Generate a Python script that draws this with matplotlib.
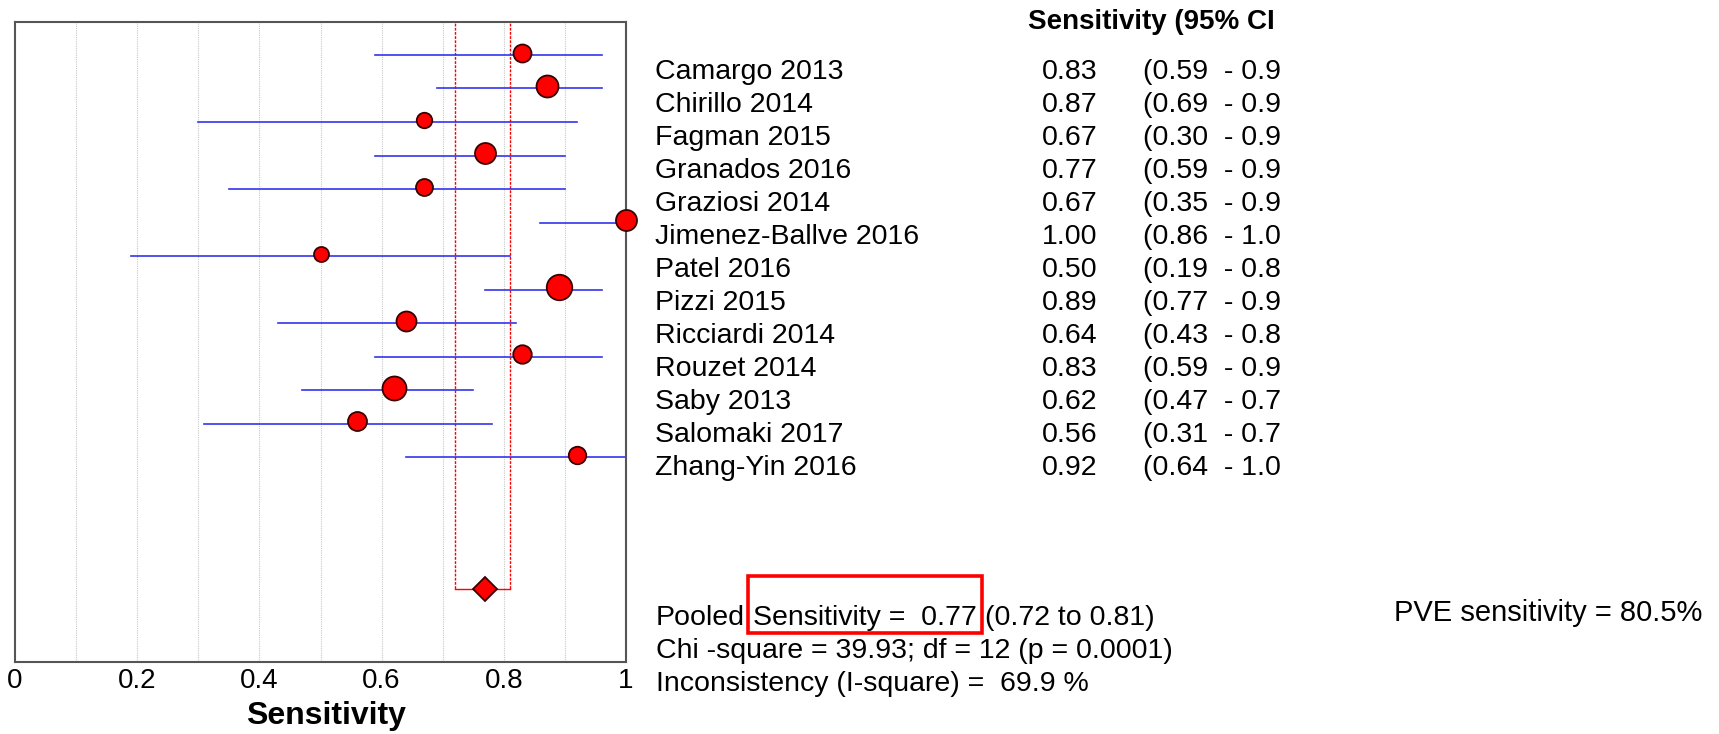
import matplotlib
matplotlib.use("Agg")
import matplotlib.pyplot as plt
from matplotlib.patches import Rectangle
from matplotlib.transforms import IdentityTransform
import numpy as np

plt.rcParams['font.family'] = ['Liberation Sans', 'DejaVu Sans']

# study data
studies = ['Camargo 2013', 'Chirillo 2014', 'Fagman 2015', 'Granados 2016',
           'Graziosi 2014', 'Jimenez-Ballve 2016', 'Patel 2016', 'Pizzi 2015',
           'Ricciardi 2014', 'Rouzet 2014', 'Saby 2013', 'Salomaki 2017',
           'Zhang-Yin 2016']
sens = [0.83, 0.87, 0.67, 0.77, 0.67, 1.00, 0.50, 0.89, 0.64, 0.83, 0.62, 0.56, 0.92]
ci_low = [0.59, 0.69, 0.30, 0.59, 0.35, 0.86, 0.19, 0.77, 0.43, 0.59, 0.47, 0.31, 0.64]
ci_high = [0.96, 0.96, 0.92, 0.90, 0.90, 1.00, 0.81, 0.96, 0.82, 0.96, 0.75, 0.78, 1.00]
# relative study weight (drawn as marker diameter)
weight = [18, 22, 15.5, 21, 17, 21, 15, 25.5, 20, 18.5, 24, 19, 17.5]

pooled = 0.77
pooled_lo = 0.72
pooled_hi = 0.81
chi_sq = 39.93
dof = 12
p_val = 0.0001
i_sq = 69.9
pve = 80.5

xticks = [0, 0.2, 0.4, 0.6, 0.8, 1]
xtick_labels = ['0', '0.2', '0.4', '0.6', '0.8', '1']

W, H = 1719, 734
FS = 20.5


def fx(x):
    return x / W


def fy(y):
    return 1 - y / H


fig = plt.figure(figsize=(W / 100, H / 100), dpi=100)
ax = fig.add_axes([fx(15), fy(662), (626 - 15) / W, (662 - 22) / H])

n = len(studies)
pooled_row = n + 3

# light vertical grid every 0.1
for g in np.arange(0.1, 1.0, 0.1):
    ax.axvline(g, color='#c8c8c8', lw=0.8, ls=(0, (1, 1)), zorder=0)

# pooled CI guide lines
ax.plot([pooled_lo, pooled_lo], [-1, pooled_row], color='red', lw=1.0, ls=(0, (2, 1)), zorder=1)
ax.plot([pooled_hi, pooled_hi], [-1, pooled_row], color='red', lw=1.0, ls=(0, (2, 1)), zorder=1)
ax.plot([pooled_lo, pooled_hi], [pooled_row, pooled_row], color='red', lw=1.0, zorder=1)

for i in range(n):
    ax.plot([ci_low[i], ci_high[i]], [i + 0.07, i + 0.07], color='#3333ee', lw=1.2, zorder=2)
    ax.plot(sens[i], i, 'o', ms=weight[i] * 0.72, mfc='red', mec='#3a0000', mew=1.3,
            zorder=3, clip_on=False)

ax.plot(pooled, pooled_row, 'D', ms=12.5, mfc='red', mec='#3a0000', mew=1.3, zorder=3)

ax.set_xlim(0, 1)
ax.set_ylim(18.17, -0.91)
ax.set_xticks(xticks)
ax.set_xticklabels(xtick_labels, fontsize=20)
ax.tick_params(axis='x', length=0, pad=4.5)
ax.set_yticks([])
for sp in ax.spines.values():
    sp.set_color('#555555')
    sp.set_linewidth(1.5)

fig.text(fx(326), fy(716), 'Sensitivity', ha='center', va='center',
         fontsize=23, fontweight='bold')

# right-hand table
fig.text(fx(1028), fy(22), 'Sensitivity (95% CI', ha='left', va='center',
         fontsize=20, fontweight='bold')
for i in range(n):
    yy = fy(72 + i * 33.0)
    fig.text(fx(655), yy, studies[i], ha='left', va='center', fontsize=FS)
    fig.text(fx(1042), yy, '%.2f' % sens[i], ha='left', va='center', fontsize=FS)
    ci_txt = '(%.2f  - %.2f' % (ci_low[i], ci_high[i])
    fig.text(fx(1143), yy, ci_txt[:-1], ha='left', va='center', fontsize=FS)

# summary lines
t0 = fig.text(fx(656), fy(618), 'Pooled', ha='left', va='center', fontsize=FS)
t1 = ax.annotate('Sensitivity =  %.2f' % pooled, xy=(1, 0), xycoords=t0,
                 xytext=(5.7, 0), textcoords='offset points', ha='left', va='bottom',
                 fontsize=FS)
ax.annotate('(%.2f to %.2f)' % (pooled_lo, pooled_hi), xy=(1, 0), xycoords=t1,
            xytext=(5.7, 0), textcoords='offset points', ha='left', va='bottom',
            fontsize=FS)
fig.text(fx(656), fy(651), 'Chi -square = %.2f; df = %d (p = %.4f)' % (chi_sq, dof, p_val),
         ha='left', va='center', fontsize=FS)
fig.text(fx(656), fy(684), 'Inconsistency (I-square) =  %.1f %%' % i_sq,
         ha='left', va='center', fontsize=FS)

fig.text(fx(1702), fy(613), 'PVE sensitivity = %.1f%%' % pve, ha='right', va='center',
         fontsize=21)

# red highlight box around the pooled estimate
fig.canvas.draw()
bb = t1.get_window_extent()
x0, y0 = bb.x0 - 5, bb.y0 - 2
top = H - 576
box = Rectangle((x0, y0), bb.width + 10, top - y0, transform=IdentityTransform(),
                fill=False, ec='red', lw=2.6)
fig.add_artist(box)

fig.savefig('out.png', dpi=100)
